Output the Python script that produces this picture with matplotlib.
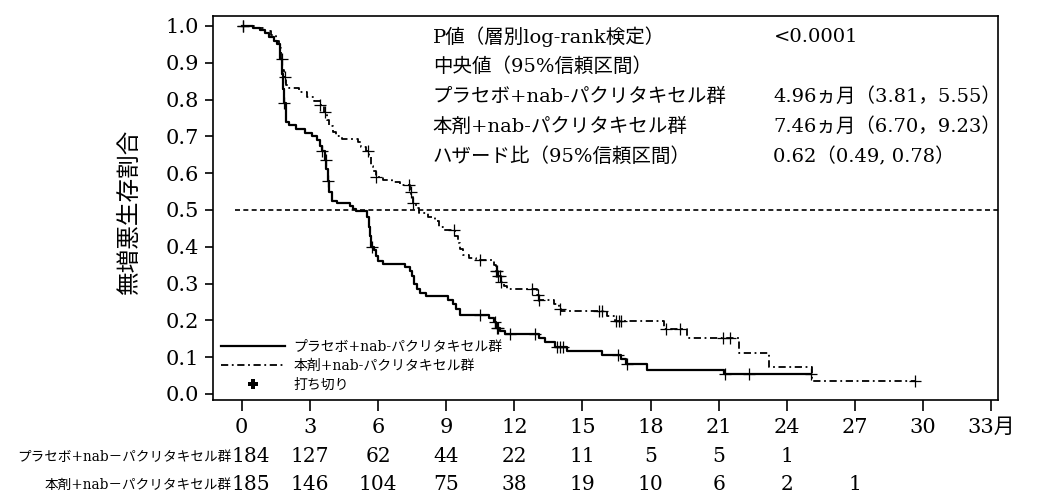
import numpy as np
import matplotlib.pyplot as plt
from matplotlib.lines import Line2D

plt.rcParams['font.family'] = ['DejaVu Serif', 'Noto Sans CJK JP']

# Kaplan-Meier steps: (time in months, survival from that time on)
placebo_t = [0, 0.5, 0.8, 1.0, 1.2, 1.4, 1.55, 1.7, 1.75, 1.8, 1.85, 1.95, 2.1, 2.4, 2.8,
             3.1, 3.3, 3.45, 3.55, 3.65, 3.72, 3.78, 3.85, 3.95, 4.2, 4.75, 4.9, 5.05, 5.5,
             5.6, 5.65, 5.7, 5.8, 5.9, 6.0, 6.2, 7.2, 7.4, 7.5, 7.6, 7.7, 7.85, 8.1, 9.1,
             9.3, 9.45, 9.6, 10.9, 11.1, 11.2, 11.35, 11.6, 13.1, 13.35, 13.8, 14.3, 15.85,
             16.7, 16.9, 17.85, 21.25, 25.05]
placebo_s = [1.0, 0.995, 0.99, 0.98, 0.97, 0.96, 0.95, 0.91, 0.87, 0.83, 0.79, 0.74, 0.73,
             0.72, 0.71, 0.70, 0.69, 0.675, 0.66, 0.635, 0.61, 0.58, 0.55, 0.525, 0.518,
             0.51, 0.503, 0.497, 0.48, 0.455, 0.43, 0.40, 0.39, 0.375, 0.36, 0.352, 0.345,
             0.335, 0.32, 0.30, 0.285, 0.275, 0.267, 0.255, 0.245, 0.23, 0.215, 0.207,
             0.195, 0.18, 0.17, 0.163, 0.153, 0.14, 0.128, 0.118, 0.105, 0.095, 0.08,
             0.065, 0.053, 0.053]
placebo_cens = [0.05, 1.88, 3.55, 3.7, 3.8, 5.75, 10.5, 11.15, 11.25, 11.3, 11.8, 12.9,
                13.9, 14.0, 14.15, 16.55, 16.95, 21.3, 22.35, 25.05]

drug_t = [0, 0.6, 1.0, 1.3, 1.5, 1.65, 1.72, 1.78, 1.85, 1.95, 2.1, 2.5, 2.85, 3.2, 3.45,
          3.6, 3.75, 3.85, 4.0, 4.15, 4.4, 5.1, 5.25, 5.45, 5.6, 5.7, 5.78, 5.9, 6.2, 6.6,
          6.95, 7.4, 7.47, 7.55, 7.65, 7.8, 8.2, 8.5, 8.7, 8.85, 9.4, 9.5, 9.6, 9.75, 10.0,
          10.3, 11.1, 11.2, 11.3, 11.4, 11.55, 11.7, 13.0, 13.1, 13.75, 13.95, 14.05,
          16.1, 16.45, 18.6, 19.6, 21.9, 23.2, 25.1, 29.7]
drug_s = [1.0, 0.995, 0.985, 0.975, 0.96, 0.94, 0.91, 0.88, 0.86, 0.84, 0.832, 0.82, 0.808,
          0.795, 0.785, 0.765, 0.745, 0.727, 0.712, 0.70, 0.692, 0.685, 0.672, 0.66,
          0.645, 0.62, 0.605, 0.59, 0.582, 0.575, 0.567, 0.55, 0.535, 0.52, 0.505, 0.492,
          0.482, 0.47, 0.455, 0.445, 0.43, 0.41, 0.395, 0.378, 0.37, 0.365, 0.35, 0.335,
          0.32, 0.305, 0.293, 0.286, 0.27, 0.256, 0.245, 0.23, 0.225, 0.211, 0.199,
          0.177, 0.151, 0.112, 0.073, 0.035, 0.035]
drug_cens = [0.05, 1.75, 1.9, 3.45, 3.65, 5.55, 5.92, 7.35, 7.45, 7.55, 9.35, 10.5, 11.2,
             11.25, 11.3, 11.35, 11.4, 12.8, 13.05, 13.1, 14.0, 15.75, 15.85, 16.5, 16.6,
             16.7, 18.7, 19.3, 21.2, 21.5, 29.65]

# number at risk
risk_times = [0, 3, 6, 9, 12, 15, 18, 21, 24, 27]
risk_placebo = [184, 127, 62, 44, 22, 11, 5, 5, 1, None]
risk_drug = [185, 146, 104, 75, 38, 19, 10, 6, 2, 1]

label_placebo = 'プラセボ+nab-パクリタキセル群'
label_drug = '本剤+nab-パクリタキセル群'
risk_label_placebo = 'プラセボ+nab－パクリタキセル群'
risk_label_drug = '本剤+nab－パクリタキセル群'

stats_left = ['P値（層別log-rank検定）', '中央値（95%信頼区間）', label_placebo,
              label_drug, 'ハザード比（95%信頼区間）']
stats_right = ['<0.0001', '', '4.96ヵ月（3.81，5.55）', '7.46ヵ月（6.70，9.23）',
               '0.62（0.49, 0.78）']


def step_value(ts, ss, t):
    i = np.searchsorted(ts, t, side='right') - 1
    return np.asarray(ss)[i]


fig = plt.figure(figsize=(10.46, 4.93), dpi=100)
ax = fig.add_axes([0.2036, 0.189, 0.7505, 0.7785])

ax.step(placebo_t, placebo_s, where='post', color='black', lw=1.6)
ax.step(drug_t, drug_s, where='post', color='black', lw=1.3, linestyle=(0, (4, 2, 1, 2)))

ax.plot(placebo_cens, step_value(placebo_t, placebo_s, placebo_cens), '+',
        color='black', ms=8, mew=0.9)
ax.plot(drug_cens, step_value(drug_t, drug_s, drug_cens), '+',
        color='black', ms=8, mew=0.9)

# median reference line
ax.hlines(0.5, -0.3, 34, colors='black', linestyles=(0, (3, 2)), lw=1.2)

ax.set_xlim(-1.27, 33.3)
ax.set_ylim(-0.016, 1.027)
ax.set_xticks(np.arange(0, 34, 3))
ax.set_xticklabels([str(v) for v in range(0, 31, 3)] + ['33月'])
ax.set_yticks(np.arange(0, 1.01, 0.1))
ax.set_yticklabels([f'{v:.1f}' for v in np.arange(0, 1.01, 0.1)])
ax.tick_params(axis='x', direction='out', length=8, width=1.2, labelsize=15, pad=5)
ax.tick_params(axis='y', direction='out', length=6, width=1.2, labelsize=15, pad=4)
for sp in ax.spines.values():
    sp.set_linewidth(1.2)

ax.set_ylabel('無増悪生存割合', fontsize=17)
ax.yaxis.set_label_coords(-0.092, 0.49)

# statistics block
for i, (l, r) in enumerate(zip(stats_left, stats_right)):
    y = 0.945 - i * 0.078
    ax.text(0.28, y, l, transform=ax.transAxes, fontsize=14, va='center', ha='left')
    ax.text(0.714, y, r, transform=ax.transAxes, fontsize=14, va='center', ha='left')

handles = [Line2D([], [], color='black', lw=1.6),
           Line2D([], [], color='black', lw=1.3, linestyle=(0, (4, 2, 1, 2))),
           Line2D([], [], color='black', marker='P', ms=7, lw=0, mew=0)]
ax.legend(handles, [label_placebo, label_drug, '打ち切り'], loc='lower left',
          frameon=False, fontsize=10, handlelength=4.6, labelspacing=0.35,
          borderaxespad=0.2, handletextpad=0.6)

# number at risk table
tr = ax.get_xaxis_transform()
for t, n1, n2 in zip(risk_times, risk_placebo, risk_drug):
    dx = 0.4 if t == 0 else 0
    if n1 is not None:
        ax.text(t + dx, -0.148, str(n1), transform=tr, ha='center', va='center', fontsize=14.5)
    if n2 is not None:
        ax.text(t + dx, -0.221, str(n2), transform=tr, ha='center', va='center', fontsize=14.5)
ax.text(-0.45, -0.148, risk_label_placebo, transform=tr, ha='right', va='center', fontsize=9.8)
ax.text(-0.45, -0.221, risk_label_drug, transform=tr, ha='right', va='center', fontsize=9.8)

fig.savefig('out.png', dpi=100)
